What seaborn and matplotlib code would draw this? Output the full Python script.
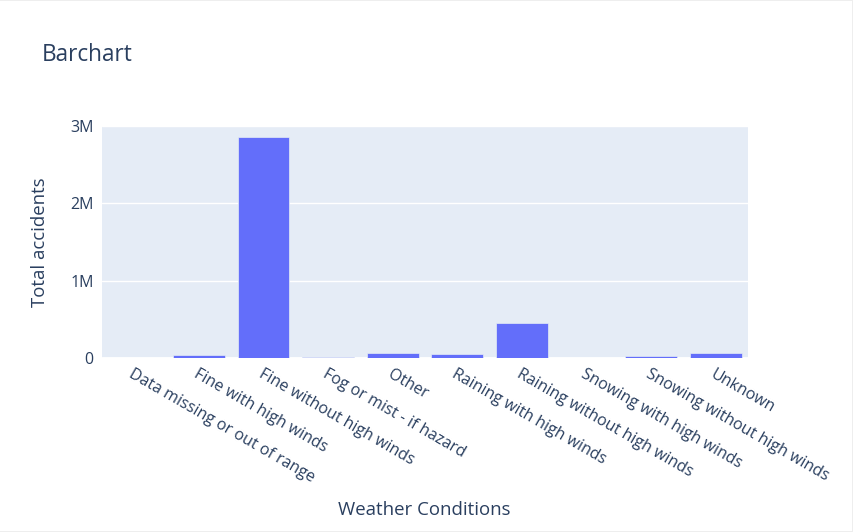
import matplotlib
matplotlib.use("Agg")
import matplotlib.pyplot as plt
import seaborn as sns
import pandas as pd
from matplotlib.patches import Rectangle

categories = ["Data missing or out of range", "Fine with high winds", "Fine without high winds",
              "Fog or mist - if hazard", "Other", "Raining with high winds",
              "Raining without high winds", "Snowing with high winds",
              "Snowing without high winds", "Unknown"]
totals = [3000, 40000, 2854000, 17000, 68000, 52000, 452000, 3000, 20000, 63000]

df = pd.DataFrame({"Weather Conditions": categories, "Total accidents": totals})

sns.set_theme(style="white")
plt.rcParams['font.family'] = ['Open Sans', 'DejaVu Sans']

text_color = "#2a3f5f"
W, H = 854, 532
fig = plt.figure(figsize=(W / 100, H / 100), dpi=100)
ax = fig.add_axes([102/W, 1 - 358/H, 646/W, 232/H])
ax.set_facecolor("#e5ecf6")
sns.barplot(data=df, x="Weather Conditions", y="Total accidents", color="#636efa",
            saturation=1, width=0.8, edgecolor="#e5ecf6", linewidth=0.5, ax=ax, zorder=3)
ax.set_ylim(0, 3.0e6)
ax.set_xlim(-0.5, len(categories) - 0.5)
ax.set_yticks([0, 1e6, 2e6, 3e6])
ax.set_yticklabels(["0", "1M", "2M", "3M"], color=text_color, fontsize=11.5)
ax.yaxis.grid(True, color="white", linewidth=1, zorder=0)
ax.set_axisbelow(True)
ax.axhline(0, color="white", linewidth=2, zorder=2)
for s in ax.spines.values():
    s.set_visible(False)
ax.tick_params(axis="both", length=0, pad=6)
ax.set_xticks(range(len(categories)))
ax.set_xticklabels(categories, rotation=-30, ha="left", va="top", rotation_mode="anchor",
                   color=text_color, fontsize=11.5)
ax.set_xlabel("Weather Conditions", color=text_color, fontsize=13.4, va="center")
ax.xaxis.set_label_coords((424 - 102) / 646, -(510 - 358) / 232)
ax.set_ylabel("Total accidents", color=text_color, fontsize=13.4, va="center")
ax.yaxis.set_label_coords(-(102 - 40) / 646, 0.5)
fig.text(42/W, 1 - 55/H, "Barchart", color=text_color, fontsize=16.3, va="center", ha="left")

# faint page border (top, right, bottom)
border = "#eeeeee"
fig.patches.append(Rectangle((0, 1 - 1/H), 1, 1/H, transform=fig.transFigure,
                             facecolor=border, edgecolor="none", zorder=10))
fig.patches.append(Rectangle((1 - 2/W, 0), 2/W, 1, transform=fig.transFigure,
                             facecolor=border, edgecolor="none", zorder=10))
fig.patches.append(Rectangle((0, 0), 1, 1/H, transform=fig.transFigure,
                             facecolor=border, edgecolor="none", zorder=10))
fig.savefig("out.png", dpi=100, facecolor="white")
